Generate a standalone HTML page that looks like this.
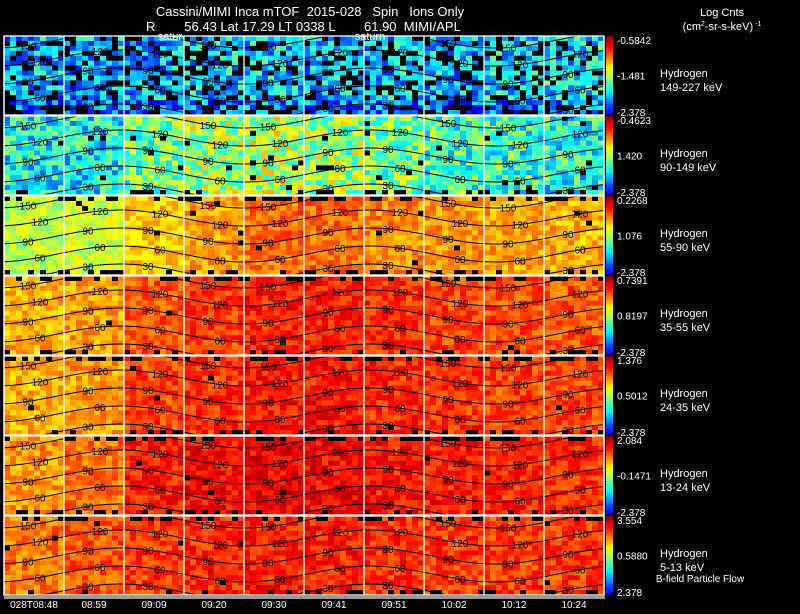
<!DOCTYPE html>
<html><head><meta charset="utf-8">
<style>
body{margin:0;background:#000;width:800px;height:609px;overflow:hidden;font-family:"Liberation Sans",sans-serif}
svg text{font-family:"Liberation Sans",sans-serif;fill:#fff;white-space:pre}
</style></head>
<body>
<svg id="chart" width="800" height="609" viewBox="0 0 800 609" xmlns="http://www.w3.org/2000/svg">
<rect width="800" height="609" fill="#000"/>
<text x="310" y="16" font-size="13" text-anchor="middle" xml:space="preserve">Cassini/MIMI Inca mTOF  2015-028   Spin   Ions Only</text>
<text x="146" y="31" font-size="13" xml:space="preserve">R        56.43 Lat 17.29 LT 0338 L        61.90  MIMI/APL</text>
<text x="722" y="16" font-size="11" text-anchor="middle">Log Cnts</text>
<text x="722" y="30" font-size="11" text-anchor="middle">(cm<tspan font-size="7" dy="-4">2</tspan><tspan dy="4">-sr-s-keV)</tspan><tspan font-size="7" dy="-4"> -1</tspan></text>
<g id="panels"></g>
<rect x="4" y="596" width="601" height="3" fill="#999"/>
<g id="times"></g>
<text x="700" y="582" font-size="10" text-anchor="middle">B-field Particle Flow</text>
</svg>
<script>
const timeLabels=["028T08:48","08:59","09:09","09:20","09:30","09:41","09:51","10:02","10:12","10:24"];
const energyLabels=["149-227 keV","90-149 keV","55-90 keV","35-55 keV","24-35 keV","13-24 keV","5-13 keV"];
const cbTop=["-0.5842","-0.4623","0.2268","0.7391","1.376","2.084","3.554"];
const cbMid=["-1.481","1.420","1.076","0.8197","0.5012","-0.1471","0.5880"];
const cbBot=["-2.378","-2.378","-2.378","-2.378","-2.378","-2.378","2.378"];
const contourLevels=[150,120,90,60,30];
// mean colormap level (0..1, jet) per panel per time column
const lvl0=[0.31,0.29,0.30,0.33,0.33,0.32,0.32,0.30,0.35,0.35];
const lvl1=[0.38,0.38,0.48,0.54,0.55,0.52,0.48,0.44,0.42,0.40];
const lvl2=[0.56,0.58,0.67,0.72,0.77,0.77,0.74,0.73,0.71,0.70];
const lvl3=[0.70,0.72,0.79,0.82,0.85,0.85,0.83,0.81,0.80,0.79];
const lvl4=[0.70,0.72,0.81,0.83,0.86,0.86,0.84,0.83,0.81,0.81];
const lvl5=[0.73,0.76,0.85,0.87,0.89,0.88,0.86,0.85,0.84,0.83];
const lvl6=[0.76,0.79,0.82,0.84,0.85,0.85,0.83,0.82,0.82,0.82];
const levels=[lvl0,lvl1,lvl2,lvl3,lvl4,lvl5,lvl6];
const missing=[0.25,0.03,0.01,0.005,0.005,0.005,0.005];

const NS="http://www.w3.org/2000/svg";
const X0=4,X1=604,PH=79,PY0=36,PSTEP=80,NCX=100,NCY=16;
const xCol=c=>X0+c*(X1-X0)/10;
const panelTop=p=>PY0+p*PSTEP;
function jet(v){const cl=t=>Math.max(0,Math.min(1,t));
 const r=cl(1.5-Math.abs(4*v-3)),g=cl(1.5-Math.abs(4*v-2)),b=cl(1.5-Math.abs(4*v-1));
 return `rgb(${Math.round(r*255)},${Math.round(g*255)},${Math.round(b*255)})`;}
function h(i,j,k){let n=(i*374761393+j*668265263+k*2147483647)|0;n=(n^(n>>>13))*1274126177|0;return ((n^(n>>>16))>>>0)/4294967296;}
function mk(tag,attrs,parent){const e=document.createElementNS(NS,tag);for(const k in attrs)e.setAttribute(k,attrs[k]);parent.appendChild(e);return e;}
const G=document.getElementById('panels');
for(let p=0;p<7;p++){
 const top=panelTop(p);
 const g=mk('g',{},G);
 
 
 const clip=mk('clipPath',{id:'cp'+p},g);mk('rect',{x:X0,y:top,width:X1-X0,height:PH},clip);
 const cells=mk('g',{'clip-path':'url(#cp'+p+')'},g);
 
 
 const cw=(X1-X0)/NCX,ch=PH/NCY;
 for(let i=0;i<NCX;i++)for(let j=0;j<NCY;j++){
  const col=Math.floor(i/10);
  let v=levels[p][col]+(h(i,j,p)-0.5)*(p<2?0.32:0.14);
  if(p==0&&j>12)v-=0.08;
  const miss=h(j,i,p+11)<missing[p]||(p>=2&&j==0&&h(i,p,3)<0.4)||(j==NCY-1&&h(i,j,p+5)<0.25);
  mk('rect',{x:(X0+i*cw).toFixed(2),y:(top+j*ch).toFixed(2),width:(cw+0.3).toFixed(2),height:(ch+0.3).toFixed(2),fill:miss?'#000':jet(v)},cells);
 }
 const lines=mk('g',{'clip-path':'url(#cp'+p+')'},g);
 
 
 contourLevels.forEach((lv,k)=>{
  const base=top+4+k*18;
  const yf=x=>base+8*Math.sin(2*Math.PI*(x-182.5)/250);
  let d='';for(let x=X0;x<=X1;x+=3)d+=(x==X0?'M':'L')+x+','+yf(x).toFixed(1);
  const pth=mk('path',{d:d,stroke:'#000','stroke-width':1,fill:'none'},lines);
  
  
  for(let c=0;c<10;c++){const x=xCol(c)+30+((k%2)?6:-6);const y=yf(x)+4;
   if(y>top+8&&y<top+PH){const t=mk('text',{x:x,y:y,'font-size':10,'text-anchor':'middle',style:'fill:#000'},lines);t.textContent=lv;
    }}
 });
 for(let c=0;c<=10;c++){const l=mk('line',{x1:xCol(c),x2:xCol(c),y1:top,y2:top+PH,stroke:'#fff','stroke-width':1.3},g);
  }
 const fr=mk('rect',{x:X0,y:top,width:X1-X0,height:PH,fill:'none',stroke:'#fff','stroke-width':1.3},g);
 
 const defs=mk('defs',{},g);const lg=mk('linearGradient',{id:'cb'+p,x1:0,y1:1,x2:0,y2:0},defs);
 for(let s=0;s<=10;s++)mk('stop',{offset:s/10,'stop-color':jet(0.1+0.9*s/10)},lg);
 const cb=mk('rect',{x:606,y:top,width:7,height:PH,fill:'url(#cb'+p+')'},g);
 
 const t1=mk('text',{x:617,y:top+8,'font-size':10},g);t1.textContent=cbTop[p];
 const t2=mk('text',{x:617,y:top+PH/2+4,'font-size':10},g);t2.textContent=cbMid[p];
 const t3=mk('text',{x:617,y:top+PH+1,'font-size':10},g);t3.textContent=cbBot[p];
 const n1=mk('text',{x:660,y:top+41,'font-size':11},g);n1.textContent='Hydrogen';
 const n2=mk('text',{x:660,y:top+55,'font-size':11},g);n2.textContent=energyLabels[p];
}
const sg=mk('g',{},G);
[[170,"satur"],[370,"saturn"]].forEach(a=>{const t=mk('text',{x:a[0],y:40,'font-size':11,'text-anchor':'middle'},sg);t.textContent=a[1];
 });
const T=document.getElementById('times');
timeLabels.forEach((s,c)=>{const t=mk('text',{x:xCol(c)+30,y:608,'font-size':10,'text-anchor':'middle'},T);t.textContent=s;
 });
</script>
</body></html>
